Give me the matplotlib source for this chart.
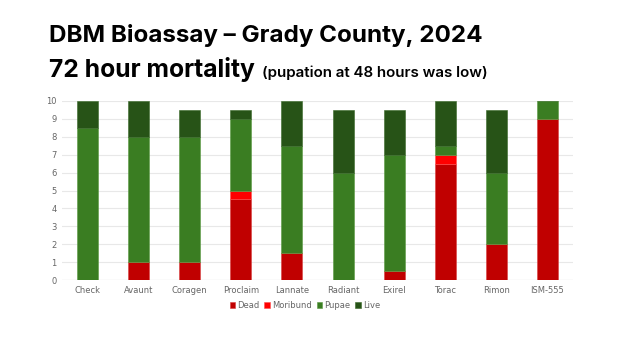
import matplotlib.pyplot as plt
import numpy as np

# Data
products = ['Check', 'Avaunt', 'Coragen', 'Proclaim', 'Lannate',
            'Radiant', 'Exirel', 'Torac', 'Rimon', 'ISM-555']
dead = [0, 1, 1, 4.5, 1.5, 0, 0.5, 6.5, 2, 9]
moribund = [0, 0, 0, 0.5, 0, 0, 0, 0.5, 0, 0]
pupae = [8.5, 7, 7, 4, 6, 6, 6.5, 0.5, 4, 1]
live = [1.5, 2, 1.5, 0.5, 2.5, 3.5, 2.5, 2.5, 3.5, 0]

colors = {'Dead': '#C00000', 'Moribund': '#FF0000',
          'Pupae': '#3A7D22', 'Live': '#275317'}
edges = {'Dead': '#d84040', 'Moribund': '#ff5050',
         'Pupae': '#5a9a42', 'Live': '#3a6a2a'}

W, H = 624, 351
fig = plt.figure(figsize=(W / 100, H / 100), dpi=100)
ax = fig.add_axes([62 / W, 1 - 280 / H, 511 / W, 179 / H])

x = np.arange(len(products))
bottom = np.zeros(len(products))
for name, vals in [('Dead', dead), ('Moribund', moribund), ('Pupae', pupae), ('Live', live)]:
    ax.bar(x, vals, 0.41, bottom=bottom, color=colors[name], label=name,
           edgecolor=edges[name], linewidth=0.4, zorder=3)
    bottom += np.array(vals)

ax.set_xlim(-0.5, len(products) - 0.5)
ax.set_ylim(0, 10)
ax.set_yticks(range(0, 11))
ax.set_xticks(x)
ax.set_xticklabels(products)
ax.tick_params(axis='both', length=0, labelsize=6, colors='#666666', pad=4)
ax.yaxis.grid(True, color='#e8e8e8', linewidth=0.8, zorder=0)
for s in ax.spines.values():
    s.set_visible(False)
ax.axhline(0, color='#d9d9d9', linewidth=0.8, zorder=1)

ax.legend(loc='upper center', bbox_to_anchor=(0.475, -0.075), ncol=4, frameon=False,
          fontsize=6, handlelength=0.7, handleheight=0.7, handletextpad=0.2,
          columnspacing=0.6, labelcolor='#666666')

# Title lines (text widths fitted to the reference)
t1 = fig.text(49 / W, 1 - 42 / H, 'DBM Bioassay \u2013 Grady County, 2024',
              fontsize=16, fontweight='bold', family='Inter', color='black')
t2 = fig.text(49 / W, 1 - 77 / H, '72 hour mortality',
              fontsize=16, fontweight='bold', family='Inter', color='black')
t3 = fig.text(262 / W, 1 - 77 / H, '(pupation at 48 hours was low)',
              fontsize=10, fontweight='semibold', family='Inter', color='black')

r = fig.canvas.get_renderer()
for t, target in [(t1, 434), (t2, 206), (t3, 226)]:
    w = t.get_window_extent(r).width
    t.set_fontsize(t.get_fontsize() * target / w)

fig.savefig('out.png', dpi=100)
